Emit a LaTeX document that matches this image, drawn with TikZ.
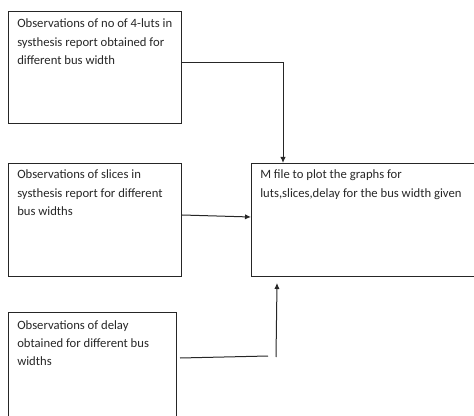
\documentclass[tikz,border=0pt]{standalone}
\usepackage{fontspec}
\setmainfont{Carlito}
\usetikzlibrary{arrows.meta,calc}
\newcommand\stklines[1]{\vtop{\halign{##\hfil\cr#1\crcr}}}
\begin{document}
\begin{tikzpicture}[x=0.75pt,y=-0.75pt,
  box/.style={draw=black!85,line width=0.75pt,rectangle,inner sep=0pt,anchor=north west},
  txt/.style={anchor=base west,inner sep=0pt,font=\fontsize{9.5pt}{13.7pt}\selectfont,text=black!85},
  conn/.style={draw=black!85,line width=0.75pt},
  arr/.style={conn,-{Latex[length=4.5pt,width=4pt]}}]
\useasboundingbox (0,0) rectangle (474,416);
\begin{scope}
\clip (0,0) rectangle (474,416);
\node[box,minimum width=129.75pt,minimum height=84pt] (b1) at (8,11) {};
\node[box,minimum width=129.75pt,minimum height=84.75pt] (b2) at (8,163) {};
\node[box,minimum width=126pt,minimum height=90pt] (b3) at (8,312) {};
\node[box,minimum width=180pt,minimum height=84.75pt] (b4) at (251,163) {};
\end{scope}
\node[txt] (t1) at ($(b1.north west)+(9,17)$) {\stklines{Observations of no of 4-luts in\cr systhesis report obtained for\cr different bus width}};
\node[txt] (t2) at ($(b2.north west)+(9,16)$) {\stklines{Observations of slices in\cr systhesis report for different\cr bus widths}};
\node[txt] (t3) at ($(b3.north west)+(9,17)$) {\stklines{Observations of delay\cr obtained for different bus\cr widths}};
\node[txt] (t4) at ($(b4.north west)+(9,16)$) {\stklines{M file to plot the graphs for\cr luts,slices,delay for the bus width given}};
% connector 1
\coordinate (c1a) at (b1.east |- 0,63);
\coordinate (c1b) at (283,63);
\draw[arr] (c1a) -- (c1b) -- (c1b |- b4.north);
% connector 2
\coordinate (c2a) at (b2.east |- 0,215);
\coordinate (c2b) at (b4.west |- 0,217);
\draw[arr] (c2a) -- (c2b);
% connector 3
\coordinate (c3a) at (180,358);
\coordinate (c3b) at (268,356);
\coordinate (c3c) at (276,357);
\coordinate (c3d) at (277,283);
\draw[conn] (c3a) -- (c3b);
\draw[arr] (c3c) -- (c3d);
\end{tikzpicture}
\end{document}
